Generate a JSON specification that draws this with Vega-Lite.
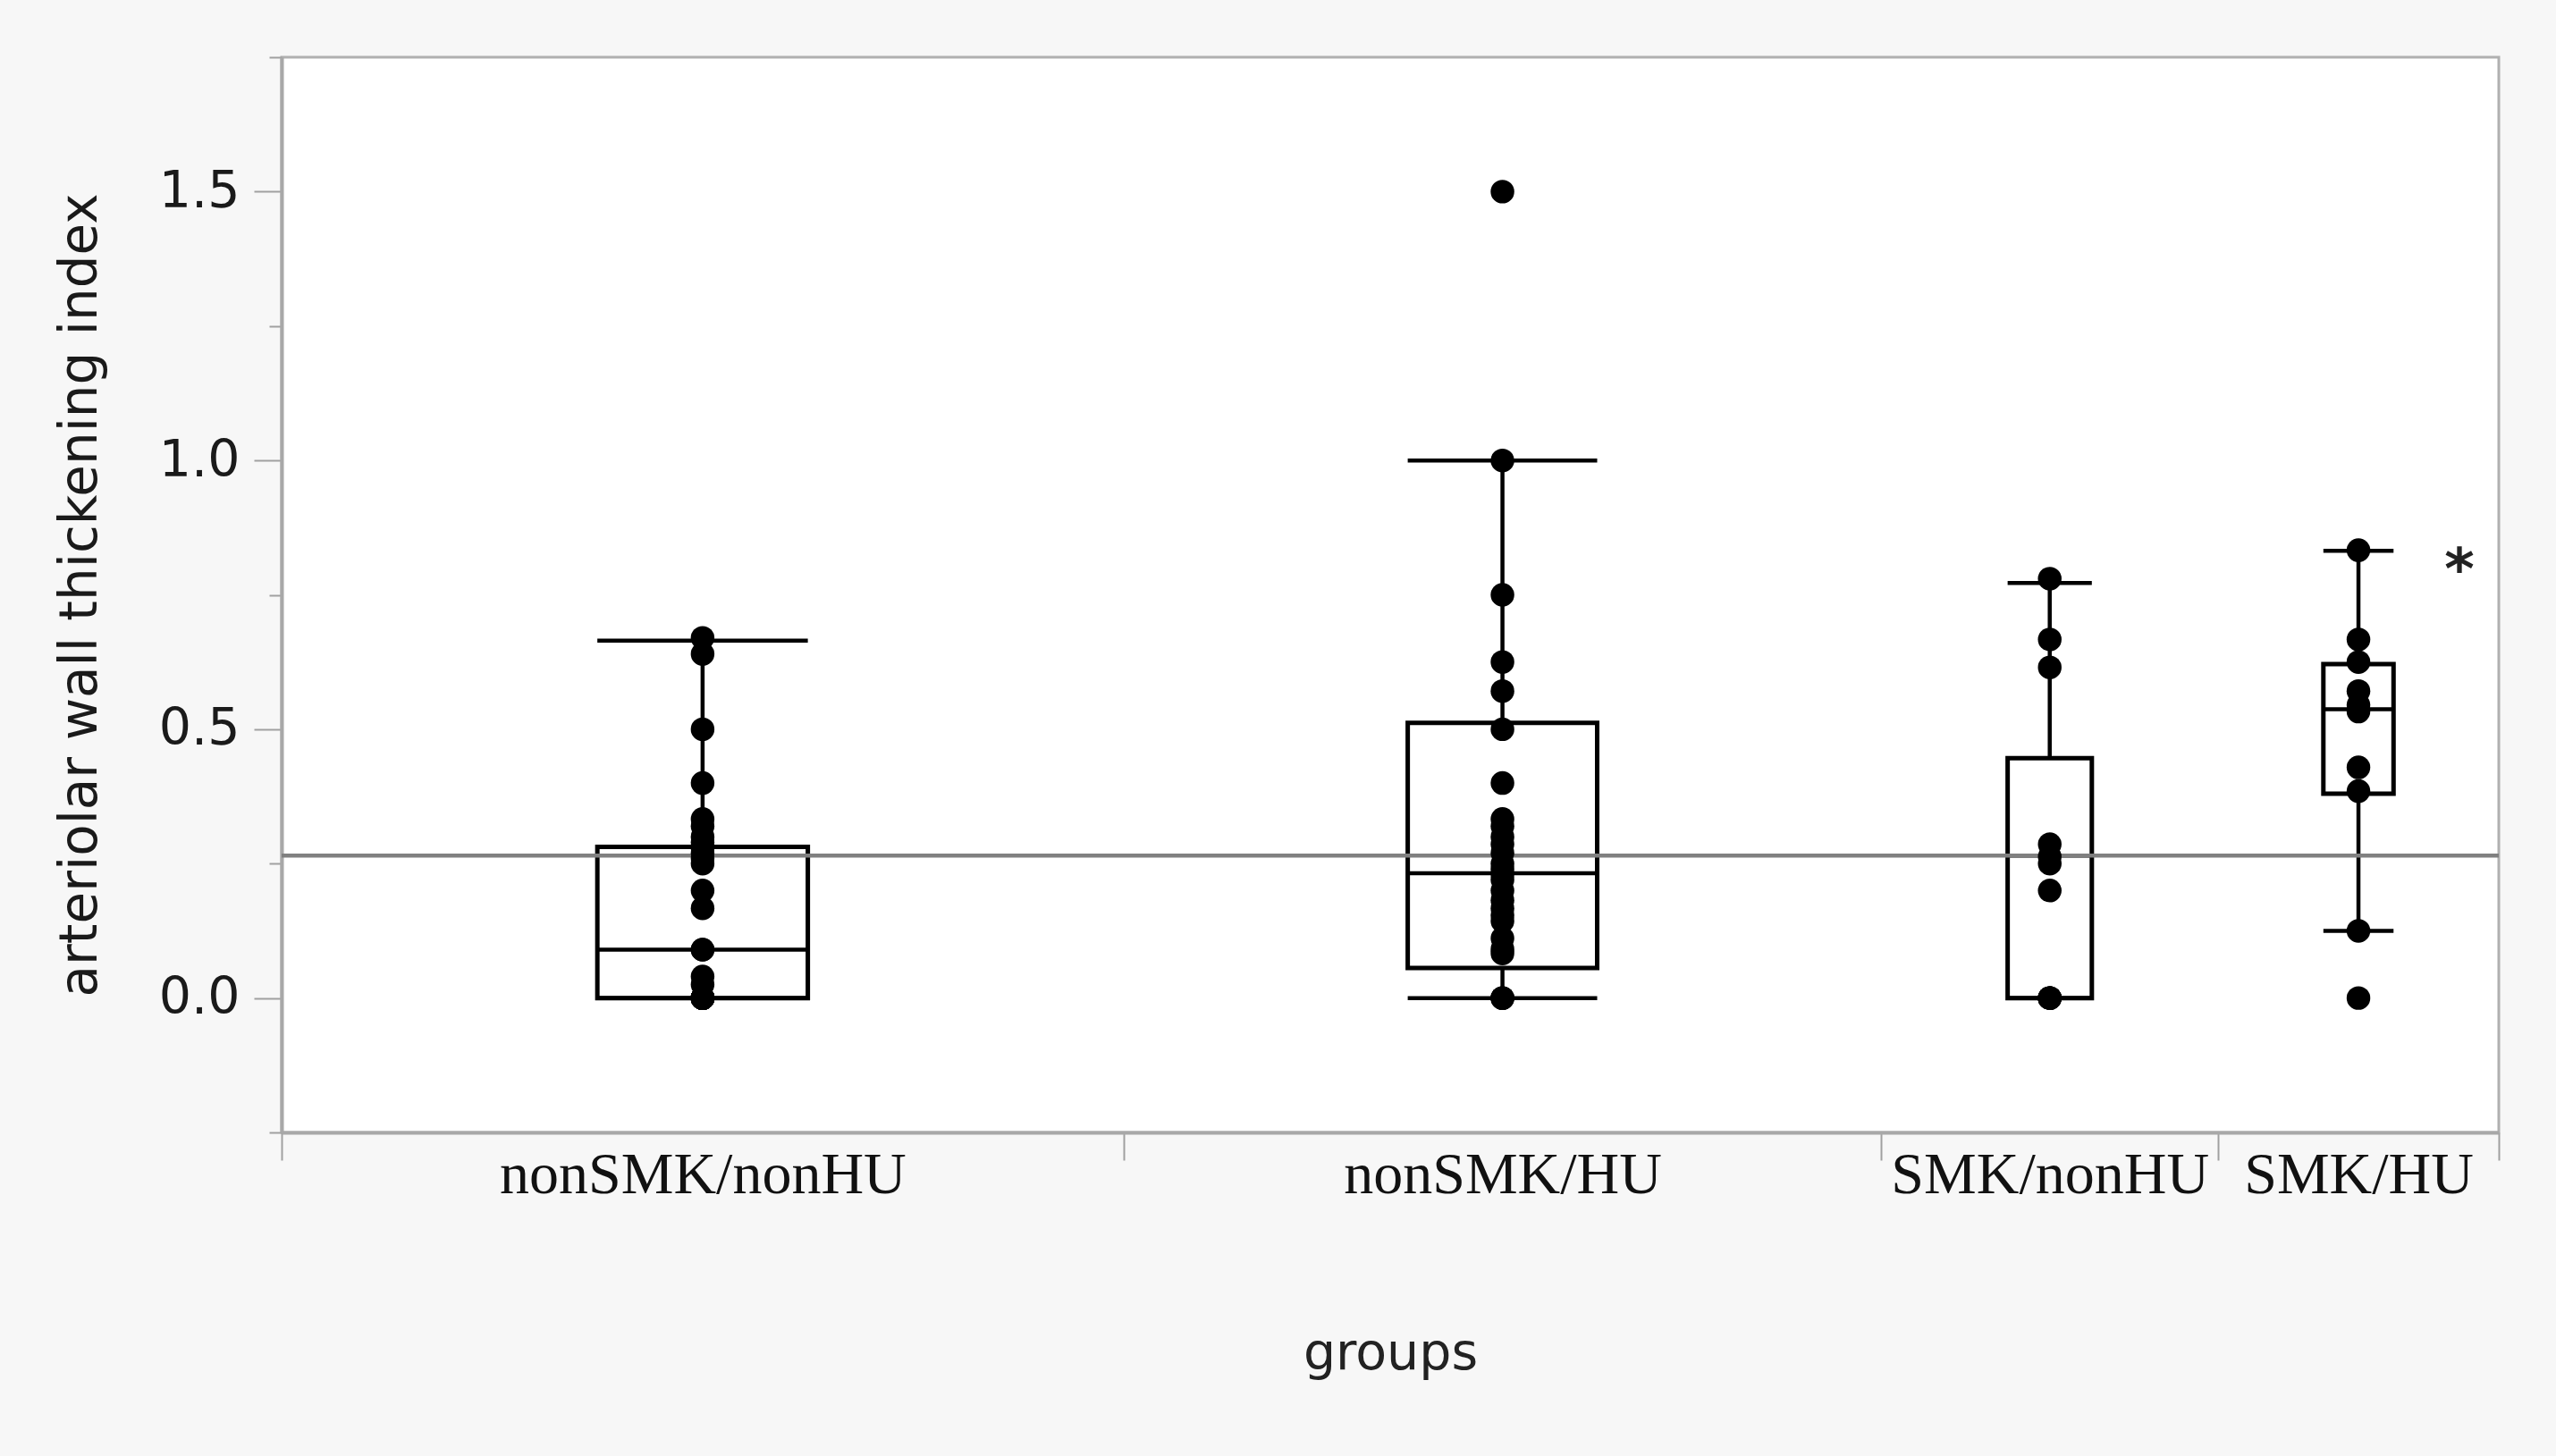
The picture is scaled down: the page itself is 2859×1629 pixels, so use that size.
{
  "$schema": "https://vega.github.io/schema/vega-lite/v6.json",
  "width": 2480,
  "height": 1203,
  "autosize": "none",
  "padding": {"left": 315, "top": 64, "right": 64, "bottom": 362},
  "background": "#f7f7f7",
  "config": {
    "view": {"stroke": "#b0b0b0", "strokeWidth": 3, "fill": "white"}
  },
  "datasets": {
    "groups": [
      {"group": "nonSMK/nonHU", "start": 0, "n": 30, "q1": 0, "median": 0.09, "q3": 0.281, "wlo": 0, "whi": 0.665},
      {"group": "nonSMK/HU", "start": 30, "n": 27, "q1": 0.056, "median": 0.232, "q3": 0.512, "wlo": 0, "whi": 1.0},
      {"group": "SMK/nonHU", "start": 57, "n": 12, "q1": 0, "median": 0.265, "q3": 0.446, "wlo": 0, "whi": 0.772},
      {"group": "SMK/HU", "start": 69, "n": 10, "q1": 0.38, "median": 0.537, "q3": 0.621, "wlo": 0.125, "whi": 0.832}
    ],
    "points": [
      {"group": "nonSMK/nonHU", "value": 0.67}, {"group": "nonSMK/nonHU", "value": 0.64}, {"group": "nonSMK/nonHU", "value": 0.5},
      {"group": "nonSMK/nonHU", "value": 0.4}, {"group": "nonSMK/nonHU", "value": 0.333}, {"group": "nonSMK/nonHU", "value": 0.32},
      {"group": "nonSMK/nonHU", "value": 0.3}, {"group": "nonSMK/nonHU", "value": 0.29}, {"group": "nonSMK/nonHU", "value": 0.28},
      {"group": "nonSMK/nonHU", "value": 0.27}, {"group": "nonSMK/nonHU", "value": 0.26}, {"group": "nonSMK/nonHU", "value": 0.25},
      {"group": "nonSMK/nonHU", "value": 0.2}, {"group": "nonSMK/nonHU", "value": 0.167}, {"group": "nonSMK/nonHU", "value": 0.09},
      {"group": "nonSMK/nonHU", "value": 0.09}, {"group": "nonSMK/nonHU", "value": 0.04}, {"group": "nonSMK/nonHU", "value": 0.025},
      {"group": "nonSMK/nonHU", "value": 0}, {"group": "nonSMK/nonHU", "value": 0}, {"group": "nonSMK/nonHU", "value": 0},
      {"group": "nonSMK/nonHU", "value": 0}, {"group": "nonSMK/nonHU", "value": 0}, {"group": "nonSMK/nonHU", "value": 0},
      {"group": "nonSMK/nonHU", "value": 0}, {"group": "nonSMK/nonHU", "value": 0}, {"group": "nonSMK/nonHU", "value": 0},
      {"group": "nonSMK/nonHU", "value": 0}, {"group": "nonSMK/nonHU", "value": 0}, {"group": "nonSMK/nonHU", "value": 0},
      {"group": "nonSMK/HU", "value": 1.5}, {"group": "nonSMK/HU", "value": 1.0}, {"group": "nonSMK/HU", "value": 0.75},
      {"group": "nonSMK/HU", "value": 0.625}, {"group": "nonSMK/HU", "value": 0.571}, {"group": "nonSMK/HU", "value": 0.5},
      {"group": "nonSMK/HU", "value": 0.4}, {"group": "nonSMK/HU", "value": 0.333}, {"group": "nonSMK/HU", "value": 0.32},
      {"group": "nonSMK/HU", "value": 0.3}, {"group": "nonSMK/HU", "value": 0.286}, {"group": "nonSMK/HU", "value": 0.27},
      {"group": "nonSMK/HU", "value": 0.25}, {"group": "nonSMK/HU", "value": 0.24}, {"group": "nonSMK/HU", "value": 0.23},
      {"group": "nonSMK/HU", "value": 0.22}, {"group": "nonSMK/HU", "value": 0.2}, {"group": "nonSMK/HU", "value": 0.182},
      {"group": "nonSMK/HU", "value": 0.167}, {"group": "nonSMK/HU", "value": 0.154}, {"group": "nonSMK/HU", "value": 0.143},
      {"group": "nonSMK/HU", "value": 0.111}, {"group": "nonSMK/HU", "value": 0.091}, {"group": "nonSMK/HU", "value": 0.083},
      {"group": "nonSMK/HU", "value": 0}, {"group": "nonSMK/HU", "value": 0}, {"group": "nonSMK/HU", "value": 0},
      {"group": "SMK/nonHU", "value": 0.78}, {"group": "SMK/nonHU", "value": 0.667}, {"group": "SMK/nonHU", "value": 0.615},
      {"group": "SMK/nonHU", "value": 0.286}, {"group": "SMK/nonHU", "value": 0.263}, {"group": "SMK/nonHU", "value": 0.25},
      {"group": "SMK/nonHU", "value": 0.2}, {"group": "SMK/nonHU", "value": 0}, {"group": "SMK/nonHU", "value": 0},
      {"group": "SMK/nonHU", "value": 0}, {"group": "SMK/nonHU", "value": 0}, {"group": "SMK/nonHU", "value": 0},
      {"group": "SMK/HU", "value": 0.833}, {"group": "SMK/HU", "value": 0.667}, {"group": "SMK/HU", "value": 0.625},
      {"group": "SMK/HU", "value": 0.571}, {"group": "SMK/HU", "value": 0.545}, {"group": "SMK/HU", "value": 0.533},
      {"group": "SMK/HU", "value": 0.429}, {"group": "SMK/HU", "value": 0.385}, {"group": "SMK/HU", "value": 0.125},
      {"group": "SMK/HU", "value": 0}
    ],
    "grandmean": [{"mean": 0.265}],
    "notes": [{"label": "*", "xpos": 77.6, "ypos": 0.76}]
  },
  "layer": [
    {
      "data": {"name": "groups"},
      "transform": [
        {"calculate": "datum.start + datum.n / 2", "as": "mid"},
        {"calculate": "datum.start + datum.n / 2 - datum.n / 8", "as": "bx1"},
        {"calculate": "datum.start + datum.n / 2 + datum.n / 8", "as": "bx2"}
      ],
      "layer": [
        {
          "mark": {"type": "rect", "fill": null, "fillOpacity": 0, "stroke": "black", "strokeWidth": 5},
          "encoding": {
            "x": {
              "field": "bx1", "type": "quantitative",
              "scale": {"domain": [0, 79], "nice": false, "zero": false},
              "axis": {
                "title": "groups",
                "values": [0, 15, 30, 43.5, 57, 63, 69, 74, 79],
                "labelExpr": "datum.value == 15 ? 'nonSMK/nonHU' : datum.value == 43.5 ? 'nonSMK/HU' : datum.value == 63 ? 'SMK/nonHU' : datum.value == 74 ? 'SMK/HU' : ''",
                "tickSize": {"condition": {"test": "datum.value == 0 || datum.value == 30 || datum.value == 57 || datum.value == 69 || datum.value == 79", "value": 31}, "value": 0},
                "tickOpacity": {"condition": {"test": "datum.value == 0 || datum.value == 30 || datum.value == 57 || datum.value == 69 || datum.value == 79", "value": 1}, "value": 0},
                "tickColor": "#a0a0a0",
                "tickWidth": 2,
                "domainColor": "#a8a8a8",
                "domainWidth": 4,
                "labelFont": "Liberation Serif",
                "labelFontSize": 66,
                "labelColor": "#111",
                "labelPadding": 15,
                "labelLimit": 0,
                "labelFlush": false,
                "labelOverlap": false,
                "labelBound": false,
                "titleFont": "DejaVu Sans",
                "titleFontSize": 57,
                "titleFontWeight": "normal",
                "titleColor": "#222",
                "titlePadding": 108,
                "grid": false
              }
            },
            "x2": {"field": "bx2"},
            "y": {
              "field": "q1", "type": "quantitative",
              "scale": {"domain": [-0.25, 1.75], "nice": false, "zero": false},
              "axis": {
                "title": "arteriolar wall thickening index",
                "values": [-0.25, 0, 0.25, 0.5, 0.75, 1, 1.25, 1.5, 1.75],
                "labelExpr": "abs(datum.value * 2 - round(datum.value * 2)) < 0.001 ? format(datum.value, '.1f') : ''",
                "tickSize": {"condition": {"test": "abs(datum.value * 2 - round(datum.value * 2)) < 0.001", "value": 31}, "value": 14},
                "tickColor": "#a0a0a0",
                "tickWidth": 2,
                "domainColor": "#a8a8a8",
                "domainWidth": 4,
                "labelFont": "DejaVu Sans",
                "labelFontSize": 57,
                "labelColor": "#1a1a1a",
                "labelPadding": 16,
                "labelOverlap": false,
                "labelBound": false,
                "labelFlush": false,
                "titleFont": "DejaVu Sans",
                "titleFontSize": 58,
                "titleFontWeight": "normal",
                "titleColor": "#1a1a1a",
                "titlePadding": 58,
                "grid": false
              }
            },
            "y2": {"field": "q3"}
          }
        },
        {
          "mark": {"type": "rule", "color": "black", "strokeWidth": 4.5},
          "encoding": {
            "x": {"field": "bx1", "type": "quantitative", "title": "groups"},
            "x2": {"field": "bx2"},
            "y": {"field": "median", "type": "quantitative", "title": "arteriolar wall thickening index"}
          }
        },
        {
          "mark": {"type": "rule", "color": "black", "strokeWidth": 4.5},
          "encoding": {
            "x": {"field": "mid", "type": "quantitative", "title": "groups"},
            "y": {"field": "q3", "type": "quantitative", "title": "arteriolar wall thickening index"},
            "y2": {"field": "whi"}
          }
        },
        {
          "mark": {"type": "rule", "color": "black", "strokeWidth": 4.5},
          "encoding": {
            "x": {"field": "mid", "type": "quantitative", "title": "groups"},
            "y": {"field": "wlo", "type": "quantitative", "title": "arteriolar wall thickening index"},
            "y2": {"field": "q1"}
          }
        },
        {
          "mark": {"type": "rule", "color": "black", "strokeWidth": 4.5},
          "encoding": {
            "x": {"field": "bx1", "type": "quantitative", "title": "groups"},
            "x2": {"field": "bx2"},
            "y": {"field": "whi", "type": "quantitative", "title": "arteriolar wall thickening index"}
          }
        },
        {
          "mark": {"type": "rule", "color": "black", "strokeWidth": 4.5},
          "encoding": {
            "x": {"field": "bx1", "type": "quantitative", "title": "groups"},
            "x2": {"field": "bx2"},
            "y": {"field": "wlo", "type": "quantitative", "title": "arteriolar wall thickening index"}
          }
        }
      ]
    },
    {
      "data": {"name": "grandmean"},
      "mark": {"type": "rule", "color": "#808080", "strokeWidth": 4.5},
      "encoding": {
        "y": {"field": "mean", "type": "quantitative", "title": "arteriolar wall thickening index"}
      }
    },
    {
      "data": {"name": "points"},
      "transform": [
        {"lookup": "group", "from": {"data": {"name": "groups"}, "key": "group", "fields": ["start", "n"]}},
        {"calculate": "datum.start + datum.n / 2", "as": "mid"}
      ],
      "mark": {"type": "circle", "color": "black", "opacity": 1, "size": 700},
      "encoding": {
        "x": {"field": "mid", "type": "quantitative", "title": "groups"},
        "y": {"field": "value", "type": "quantitative", "title": "arteriolar wall thickening index"}
      }
    },
    {
      "data": {"name": "notes"},
      "mark": {"type": "text", "font": "DejaVu Sans", "fontSize": 64, "fontWeight": "bold", "color": "#222", "baseline": "alphabetic", "align": "center"},
      "encoding": {
        "x": {"field": "xpos", "type": "quantitative", "title": "groups"},
        "y": {"field": "ypos", "type": "quantitative", "title": "arteriolar wall thickening index"},
        "text": {"field": "label"}
      }
    }
  ]
}
